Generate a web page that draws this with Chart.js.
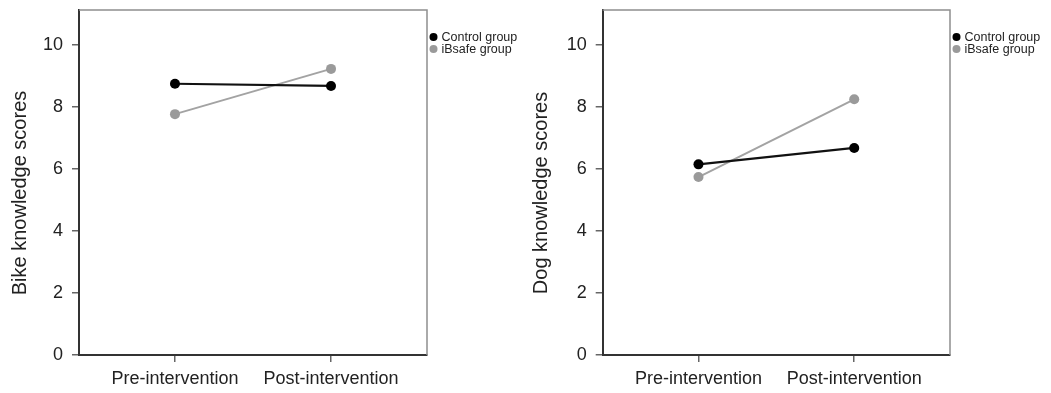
<!DOCTYPE html>
<html><head><meta charset="utf-8">
<script src="https://cdn.jsdelivr.net/npm/chart.js@4/dist/chart.umd.min.js"></script>
<style>
html,body{margin:0;padding:0;background:#fff;}
#wrap{position:relative;width:1051px;height:393px;}
canvas{position:absolute;top:0;}
</style></head><body>
<div id="wrap">
<canvas id="c1" width="530" height="393" style="left:0"></canvas>
<canvas id="c2" width="521" height="393" style="left:530px"></canvas>
</div>
<script>
const categories = ['Pre-intervention', 'Post-intervention'];
const seriesNames = ['Control group', 'iBsafe group'];
const bikeControl = [8.75, 8.68];
const bikeIBsafe = [7.77, 9.23];
const dogControl = [6.15, 6.68];
const dogIBsafe = [5.74, 8.25];
const yTicks = [0, 2, 4, 6, 8, 10];
const yTitles = ['Bike knowledge scores', 'Dog knowledge scores'];

const FONT = '"Liberation Sans", Arial, Helvetica, sans-serif';
const seriesColors = ['#000000', '#9a9a9a'];
const lineColors = ['#111111', '#a3a3a3'];

const framePlugin = {
  id: 'frame',
  afterDraw(chart) {
    const {ctx, chartArea: a} = chart;
    ctx.save();
    ctx.strokeStyle = '#8f8f8f';
    ctx.lineWidth = 1.5;
    ctx.beginPath();
    ctx.moveTo(a.left, a.top);
    ctx.lineTo(a.right, a.top);
    ctx.lineTo(a.right, a.bottom);
    ctx.stroke();
    ctx.restore();
  }
};
const yTitlePlugin = {
  id: 'ytitle',
  afterDraw(chart, args, opts) {
    const ctx = chart.ctx;
    ctx.save();
    ctx.translate(opts.x, opts.y);
    ctx.rotate(-Math.PI / 2);
    ctx.font = '20px ' + FONT;
    ctx.fillStyle = '#222';
    ctx.textAlign = 'center';
    ctx.textBaseline = 'middle';
    ctx.fillText(opts.text, 0, 0);
    ctx.restore();
  }
};
const legendPlugin = {
  id: 'sideLegend',
  afterDraw(chart) {
    const {ctx, chartArea: a} = chart;
    ctx.save();
    ctx.font = '12.5px ' + FONT;
    ctx.textBaseline = 'middle';
    ctx.textAlign = 'left';
    chart.data.datasets.forEach((ds, i) => {
      const y = 37 + i * 12;
      ctx.fillStyle = ds.pointBackgroundColor;
      ctx.beginPath();
      ctx.arc(a.right + 6.5, y, 4, 0, Math.PI * 2);
      ctx.fill();
      ctx.fillStyle = '#222';
      ctx.fillText(ds.label, a.right + 14.5, y + 0.5);
    });
    ctx.restore();
  }
};

function zeroPad(s) { s.paddingTop = 0; s.paddingBottom = 0; s.paddingLeft = 0; s.paddingRight = 0; }

function makeChart(id, control, ibsafe, title, yAxisW, rightPad, titleX) {
  const mk = (vals, i) => ({
    label: seriesNames[i],
    data: vals.map((v, k) => ({x: k + 1, y: v})),
    borderColor: lineColors[i],
    borderWidth: i === 0 ? 2.2 : 2,
    pointBackgroundColor: seriesColors[i],
    pointBorderColor: seriesColors[i],
    pointRadius: 5,
    pointBorderWidth: 0,
    fill: false,
    tension: 0
  });
  return new Chart(document.getElementById(id), {
    type: 'line',
    data: {datasets: [mk(control, 0), mk(ibsafe, 1)]},
    options: {
      responsive: false,
      animation: false,
      devicePixelRatio: 1,
      layout: {padding: {top: 10, right: rightPad, left: 0, bottom: 0}},
      plugins: {
        legend: {display: false},
        tooltip: {enabled: false},
        ytitle: {text: title, x: titleX, y: 193}
      },
      scales: {
        x: {
          type: 'linear',
          min: 0.385, max: 2.615,
          afterBuildTicks: s => { s.ticks = categories.map((c, k) => ({value: k + 1})); },
          afterFit: s => { s.height = 38; zeroPad(s); },
          ticks: {
            callback: v => categories[v - 1],
            font: {size: 18, family: FONT},
            color: '#222',
            padding: 6,
            maxRotation: 0,
            autoSkip: false
          },
          grid: {drawOnChartArea: false, drawTicks: true, tickLength: 7, color: '#666', lineWidth: 1.5},
          border: {display: true, color: '#333', width: 2}
        },
        y: {
          min: 0, max: 11.13,
          afterBuildTicks: s => { s.ticks = yTicks.map(v => ({value: v})); },
          afterFit: s => { s.width = yAxisW; zeroPad(s); },
          ticks: {
            font: {size: 18, family: FONT},
            color: '#222',
            padding: 9
          },
          grid: {drawOnChartArea: false, drawTicks: true, tickLength: 7, color: '#666', lineWidth: 1.5},
          border: {display: true, color: '#333', width: 2}
        }
      }
    },
    plugins: [framePlugin, yTitlePlugin, legendPlugin]
  });
}

makeChart('c1', bikeControl, bikeIBsafe, yTitles[0], 79, 103, 20.5);
makeChart('c2', dogControl, dogIBsafe, yTitles[1], 72.7, 101, 11.5);
</script>
</body></html>
